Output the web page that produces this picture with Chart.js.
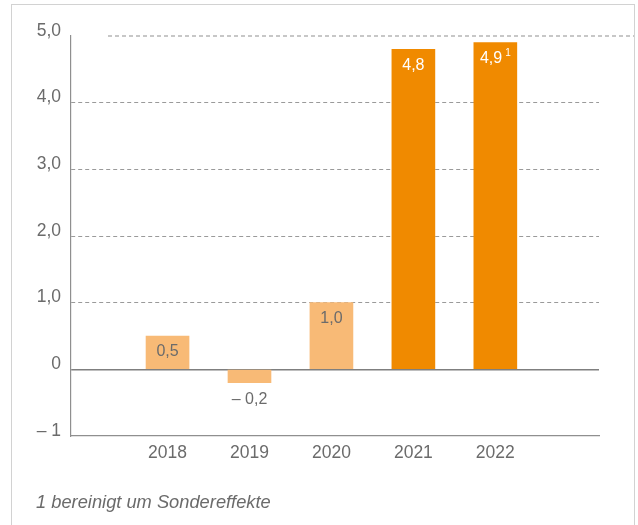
<!DOCTYPE html>
<html>
<head>
<meta charset="utf-8">
<script src="https://cdn.jsdelivr.net/npm/chart.js@4/dist/chart.umd.min.js"></script>
<style>
    html, body { margin: 0; padding: 0; background: #fff; overflow: hidden; }
    #wrap { position: relative; width: 638px; height: 525px; }
    #frame {
        position: absolute; left: 11px; top: 4px; width: 622px; height: 600px;
        border: 1.5px solid #d2d2d2;
    }
    #myChart { position: absolute; left: 0; top: 0; }
    #note {
        position: absolute; left: 36px; top: 491px;
        font: italic 18.3px "Liberation Sans", Arial, sans-serif; color: #6b6b6b;
    }
</style>
</head>
<body>
<div id="wrap">
    <div id="frame"></div>
    <canvas id="myChart" width="638" height="525"></canvas>
    <div id="note">1 bereinigt um Sondereffekte</div>
</div>
<script>
// Donnees du graphique
const years = [2018, 2019, 2020, 2021, 2022];
const values = [0.5, -0.2, 1.0, 4.8, 4.9];
const valueLabels = ['0,5', '\u2013 0,2', '1,0', '4,8', '4,9'];
const footMarks = ['', '', '', '', '1'];
const barColors = ['#F8BA76', '#F8BA76', '#F8BA76', '#F08A00', '#F08A00'];
const labelColors = ['#6b6b6b', '#6b6b6b', '#6b6b6b', '#ffffff', '#ffffff'];
const yTicks = [-1, 0, 1, 2, 3, 4, 5];
const yTickLabels = ['\u2013 1', '0', '1,0', '2,0', '3,0', '4,0', '5,0'];

const FONT = '"Liberation Sans", Arial, sans-serif';
const GRAY = '#6b6b6b';

// Ligne pointillee du haut (5,0), decalee par rapport a la zone du graphe
const topLinePlugin = {
    id: 'topLine',
    beforeDatasetsDraw(chart) {
        const y = chart.scales.y.getPixelForValue(5);
        const ctx = chart.ctx;
        ctx.save();
        ctx.strokeStyle = '#8f8f8f';
        ctx.lineWidth = 1;
        ctx.setLineDash([4, 3]);
        ctx.beginPath();
        ctx.moveTo(108, y);
        ctx.lineTo(634, y);
        ctx.stroke();
        ctx.restore();
    }
};

// Etiquettes des valeurs sur les barres
const valueLabelPlugin = {
    id: 'valueLabels',
    afterDatasetsDraw(chart) {
        const ctx = chart.ctx;
        const meta = chart.getDatasetMeta(0);
        ctx.save();
        ctx.textBaseline = 'middle';
        meta.data.forEach((bar, i) => {
            const yPos = values[i] >= 0 ? bar.y + 16 : bar.y + 17;
            ctx.font = '16px ' + FONT;
            ctx.fillStyle = labelColors[i];
            const txt = valueLabels[i];
            const w = ctx.measureText(txt).width;
            let supW = 0;
            if (footMarks[i]) {
                ctx.font = '10px ' + FONT;
                supW = ctx.measureText(footMarks[i]).width + 3;
            }
            const start = bar.x - (w + supW) / 2;
            ctx.font = '16px ' + FONT;
            ctx.textAlign = 'left';
            ctx.fillText(txt, start, yPos);
            if (footMarks[i]) {
                ctx.font = '10px ' + FONT;
                ctx.fillText(footMarks[i], start + w + 3, yPos - 5);
            }
        });
        ctx.restore();
    }
};

const config = {
    type: 'bar',
    data: {
        datasets: [{
            data: years.map((yr, i) => ({ x: yr, y: values[i] })),
            backgroundColor: barColors,
            borderWidth: 0,
            barThickness: 43
        }]
    },
    options: {
        responsive: false,
        animation: false,
        layout: { padding: { left: 0, top: 36, right: 39, bottom: 29 } },
        plugins: {
            legend: { display: false },
            tooltip: { enabled: false }
        },
        scales: {
            x: {
                type: 'linear',
                offset: false,
                min: 2016.822,
                max: 2023.265,
                afterBuildTicks: scale => { scale.ticks = years.map(v => ({ value: v })); },
                afterFit: scale => { scale.height = 60; },
                grid: { display: false, drawTicks: false, offset: false },
                border: { color: '#8f8f8f', width: 1.2 },
                ticks: {
                    padding: 7,
                    color: GRAY,
                    font: { family: FONT, size: 17.5 },
                    callback: v => String(v)
                }
            },
            y: {
                min: -1,
                max: 5,
                afterBuildTicks: scale => { scale.ticks = yTicks.map(v => ({ value: v })); },
                afterFit: scale => { scale.width = 71; },
                grid: {
                    drawTicks: false,
                    color: c => {
                        if (!c.tick) return 'transparent';
                        if (c.tick.value === 0) return '#7f7f7f';
                        if (c.tick.value >= 1 && c.tick.value <= 4) return '#9a9a9a';
                        return 'transparent';
                    },
                    lineWidth: c => (c.tick && c.tick.value === 0 ? 1.5 : 1)
                },
                border: {
                    color: '#8f8f8f',
                    width: 1.2,
                    dash: c => (c.tick && c.tick.value !== 0 ? [4, 3] : [])
                },
                ticks: {
                    padding: 10,
                    labelOffset: -5,
                    color: GRAY,
                    font: { family: FONT, size: 17.5 },
                    callback: (v, i) => yTickLabels[yTicks.indexOf(v)]
                }
            }
        }
    },
    plugins: [topLinePlugin, valueLabelPlugin]
};

const ctx = document.getElementById('myChart').getContext('2d');
const chart = new Chart(ctx, config);
</script>
</body>
</html>
